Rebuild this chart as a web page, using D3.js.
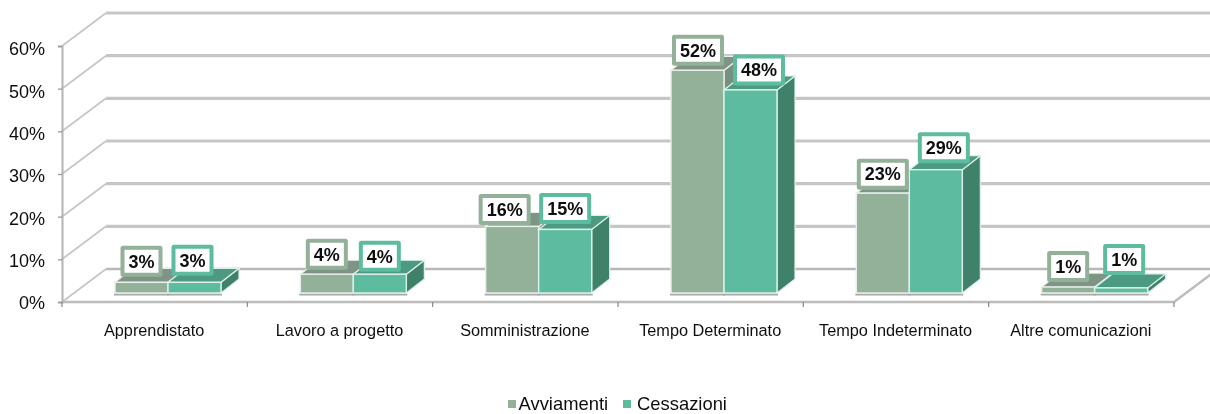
<!DOCTYPE html>
<html><head><meta charset="utf-8">
<script src="https://cdn.jsdelivr.net/npm/d3@7"></script>
<style>
html,body{margin:0;padding:0;background:#fff}
svg{display:block}
text{font-family:"Liberation Sans",Arial,sans-serif;fill:#111}
</style></head><body>
<svg id="c" width="1210" height="414"></svg>
<script>
const categories=["Apprendistato","Lavoro a progetto","Somministrazione","Tempo Determinato","Tempo Indeterminato","Altre comunicazioni"];
const seriesNames=["Avviamenti","Cessazioni"];
const avviamenti=[2.5,4.4,15.6,52.2,23.4,1.4];
const cessazioni=[2.5,4.4,14.9,47.6,28.9,1.2];
const yTicks=[0,10,20,30,40,50,60];
// manual label offsets from each bar's top-centre (layout, not data)
const labelDxA=[0,0,-7.5,0.5,0,0], labelDyA=[-21,-20,-17,-20,-19,-20.5];
const labelDxB=[-2,0,0,8.5,8,3], labelDyB=[-22,-18,-21,-20,-22,-28.5];

const svg=d3.select("#c");
const root=svg.append("g");
const defs=svg.append("defs");
defs.append("filter").attr("id","soft").attr("filterUnits","userSpaceOnUse").attr("x",0).attr("y",0).attr("width",1210).attr("height",414)
  .append("feGaussianBlur").attr("stdDeviation",0.5);
root.attr("filter","url(#soft)");

const x=d3.scaleBand().domain(categories).range([62,1174]);
const y=d3.scaleLinear().domain([0,60]).range([302,46]);
const wallDx=44, wallDy=-33;     // chart depth
const wallRight=1218;
const barInset=53, barW=53, barFrontDy=-9, barDepthX=18, barDepthY=-14;

// walls: grid lines
const grid=root.append("g");
yTicks.forEach(t=>{
  const gy=y(t);
  grid.append("path").attr("d",`M${62+wallDx},${gy+wallDy}H${wallRight}`)
    .attr("fill","none").attr("stroke",t>0?"#c6c6c6":"#b8b8b8").attr("stroke-width",t>0?3.2:2.6);
  grid.append("path").attr("d",`M${62},${gy}L${62+wallDx},${gy+wallDy}`)
    .attr("fill","none").attr("stroke","#c6c6c6").attr("stroke-width",1.8);
});
// floor front and right edge
const fy=y(0);
grid.append("path").attr("d",`M62,${fy}H1174L${1174+wallDx},${fy+wallDy}`)
  .attr("fill","none").attr("stroke","#bcbcbc").attr("stroke-width",2.4);

// axes
const yAxis=d3.axisLeft(y).tickValues(yTicks).tickSize(4).tickPadding(13).tickFormat(d=>d+"%");
const gy=root.append("g").attr("transform","translate(62,0)").call(yAxis);
gy.select(".domain").attr("stroke","#b4b4b4").attr("stroke-width",2);
gy.selectAll(".tick line").attr("stroke","#999").attr("stroke-width",1.3);
gy.selectAll(".tick text").style("font-size","18px").style("font-family","'Liberation Sans',Arial,sans-serif").attr("fill","#111")
  .attr("transform",d=>`translate(0,${1+d/30})`);

const xTickPos=d3.range(categories.length+1).map(i=>62+i*x.bandwidth());
root.append("g").selectAll("line").data(xTickPos).join("line")
  .attr("x1",d=>d).attr("x2",d=>d).attr("y1",fy).attr("y2",fy+5).attr("stroke","#888").attr("stroke-width",1.2);
root.append("g").selectAll("text").data(categories).join("text")
  .attr("x",d=>x(d)+x.bandwidth()/2-0.5).attr("y",336).attr("text-anchor","middle")
  .style("font-size","16.3px").text(d=>d);

// bars
const styles=[
 {front:"#93B199",top:"#7E9484",side:"#76907E",edge:"#E9EFEA",box:"#93B199"},
 {front:"#5DBB9F",top:"#4E9A82",side:"#41816B",edge:"#DDF1EA",box:"#5DBB9F"}];
const series=[avviamenti,cessazioni];
const barBase=fy+barFrontDy;
const pxPerUnit=y(0)-y(1);
function barTop(v){return barBase-v*pxPerUnit;}
const bars=root.append("g");
categories.forEach((c,i)=>{
  series.forEach((vals,s)=>{
    const st=styles[s], v=vals[i];
    const xl=x(c)+barInset+s*barW, xr=xl+barW, t=barTop(v), b=barBase;
    // soft floor shadow
    bars.append("path").attr("d",`M${xl-1},${b+1.5}H${xr+1}`).attr("stroke","#a8a8a8").attr("stroke-width",2);
    bars.append("path").attr("d",`M${xr},${b}V${t}L${xr+barDepthX},${t+barDepthY}V${b+barDepthY}Z`)
      .attr("fill",st.side).attr("stroke",st.edge).attr("stroke-width",1.2);
    bars.append("path").attr("d",`M${xl},${t}H${xr}L${xr+barDepthX},${t+barDepthY}H${xl+barDepthX}Z`)
      .attr("fill",st.top).attr("stroke",st.edge).attr("stroke-width",1.2);
    bars.append("rect").attr("x",xl).attr("y",t).attr("width",barW).attr("height",b-t)
      .attr("fill",st.front).attr("stroke",st.edge).attr("stroke-width",1.4);
  });
});

// data labels
const labels=root.append("g");
[[avviamenti,labelDxA,labelDyA,0],[cessazioni,labelDxB,labelDyB,1]].forEach(([vals,dxs,dys,s])=>{
  vals.forEach((v,i)=>{
    const cx=x(categories[i])+barInset+s*barW+barW/2+dxs[i];
    const cy=barTop(v)+dys[i];
    const g=labels.append("g");
    const tx=g.append("text").attr("x",cx).attr("y",cy+6.3).attr("text-anchor","middle")
      .style("font-size","18px").style("font-weight","bold").attr("fill","#000").text(d3.format(".0f")(v)+"%");
    const w=tx.node().getComputedTextLength()+12, h=27;
    g.insert("rect","text").attr("x",cx-w/2).attr("y",cy-h/2).attr("width",w).attr("height",h)
      .attr("rx",0.5).attr("fill","#fff").attr("stroke",styles[s].box).attr("stroke-width",4);
  });
});

// legend
const legend=root.append("g");
const lx=[508,623];
seriesNames.forEach((n,i)=>{
  legend.append("rect").attr("x",lx[i]).attr("y",400).attr("width",8).attr("height",8).attr("fill",styles[i].front);
  legend.append("text").attr("x",lx[i]+(i?14:10.5)).attr("y",410).style("font-size","18.4px").text(n);
});
</script>
</body></html>
